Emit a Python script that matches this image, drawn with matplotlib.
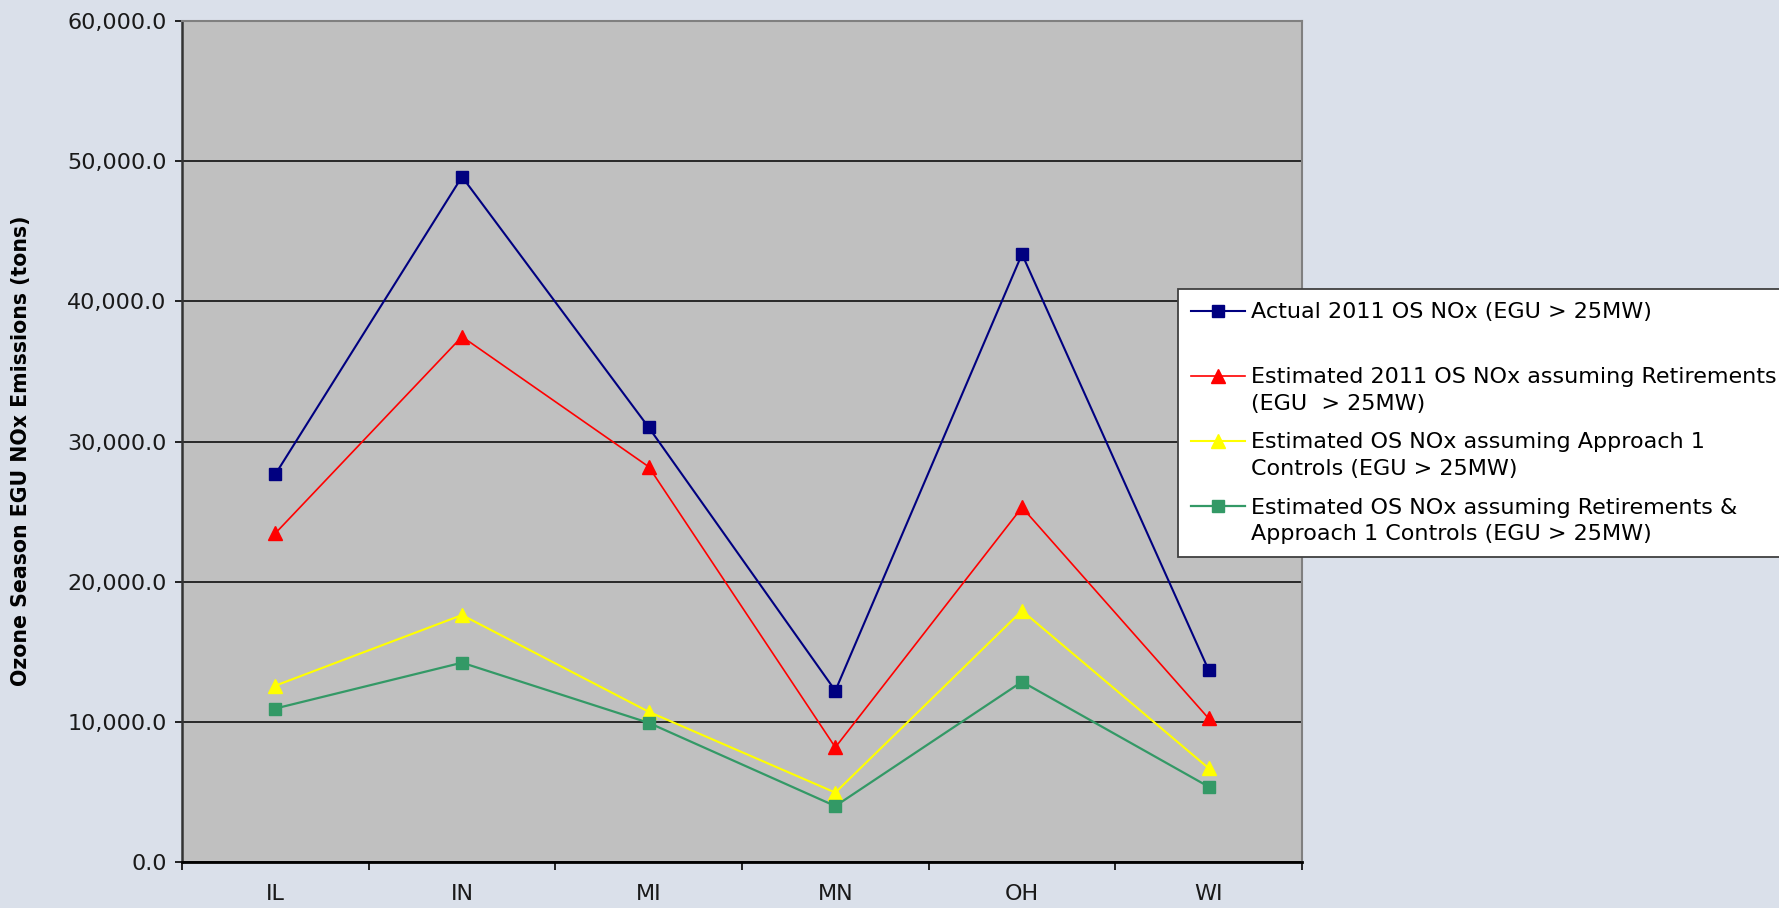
import numpy as np
import matplotlib
matplotlib.use("Agg")
import matplotlib.pyplot as plt
from matplotlib.ticker import FuncFormatter, FixedLocator
from matplotlib.legend_handler import HandlerLine2D

states = ["IL", "IN", "MI", "MN", "OH", "WI"]
actual_2011 = [27660, 48890, 31010, 12220, 43370, 13690]
est_retirements = [23450, 37480, 28200, 8180, 25300, 10240]
est_approach1 = [12580, 17620, 10720, 4950, 17930, 6690]
est_retire_approach1 = [10950, 14220, 9930, 3990, 12860, 5370]

labels = [
    "Actual 2011 OS NOx (EGU > 25MW)\n ",
    "Estimated 2011 OS NOx assuming Retirements\n(EGU  > 25MW)",
    "Estimated OS NOx assuming Approach 1\nControls (EGU > 25MW)",
    "Estimated OS NOx assuming Retirements &\nApproach 1 Controls (EGU > 25MW)",
]
y_label = "Ozone Season EGU NOx Emissions (tons)"

plt.rcParams['font.family'] = ['DejaVu Sans']

fig = plt.figure(figsize=(17.79, 9.08), dpi=100)
fig.patch.set_facecolor("#DAE0EA")
ax = fig.add_axes([182/1779, 46/908, (1302-182)/1779, (862-21)/908])
ax.set_facecolor("#C0C0C0")

x = np.arange(len(states))
styles = [
    (actual_2011, "#000080", "s", 9, 1.5),
    (est_retirements, "#FF0000", "^", 9.5, 1.2),
    (est_approach1, "#FFFF00", "^", 9.5, 1.5),
    (est_retire_approach1, "#339966", "s", 9, 1.6),
]
handles = []
for (vals, col, mk, ms, lw), lab in zip(styles, labels):
    h, = ax.plot(x, vals, color=col, marker=mk, markersize=ms, linewidth=lw,
                 markeredgecolor=col, markerfacecolor=col, label=lab, zorder=3)
    handles.append(h)

ax.set_xlim(-0.5, len(states) - 0.5)
ax.set_ylim(0, 60000)
ax.yaxis.set_major_locator(FixedLocator(np.arange(0, 60001, 10000)))
ax.yaxis.set_major_formatter(FuncFormatter(lambda v, p: f"{v:,.1f}"))
ax.grid(axis="y", color="black", linewidth=1.1, zorder=1)
ax.set_axisbelow(True)

ax.set_xticks(np.arange(-0.5, len(states), 1.0))
ax.set_xticklabels([])
ax.set_xticks(x, minor=True)
ax.set_xticklabels(states, minor=True)
ax.tick_params(axis="x", which="major", direction="out", length=6, width=1.2, color="black")
ax.tick_params(axis="x", which="minor", length=0, pad=16, labelsize=16, labelcolor="#1a1a1a")
ax.tick_params(axis="y", direction="out", length=5, width=1.2, pad=6, labelsize=16, labelcolor="#1a1a1a")

for s in ["top", "right"]:
    ax.spines[s].set_color("#808080")
    ax.spines[s].set_linewidth(1.5)
ax.spines["left"].set_color("#333333")
ax.spines["left"].set_linewidth(1.8)
ax.spines["bottom"].set_color("black")
ax.spines["bottom"].set_linewidth(2)

fig.text(21/1779, 1 - 451/908, y_label, rotation=90, ha="center", va="center",
         fontsize=14.8, fontweight="bold")


class UpperHandler(HandlerLine2D):
    def __init__(self, shift, **kw):
        super().__init__(**kw)
        self.shift = shift

    def create_artists(self, legend, orig_handle, xdescent, ydescent, width, height, fontsize, trans):
        arts = super().create_artists(legend, orig_handle, xdescent, ydescent, width, height, fontsize, trans)
        for a in arts:
            a.set_ydata(np.asarray(a.get_ydata(), dtype=float) + self.shift)
        return arts


fs = 16
hm = {h: UpperHandler(shift=10.6, numpoints=1) for h in handles}
leg = fig.legend(handles=handles, labels=labels, loc="upper left",
                 bbox_to_anchor=(1178/1779, 1 - 289/908), bbox_transform=fig.transFigure,
                 fontsize=fs, frameon=True, fancybox=False, framealpha=1,
                 edgecolor="#404040", facecolor="white", borderaxespad=0,
                 handlelength=2.45, handletextpad=0.27, labelspacing=0.85,
                 borderpad=0.58, handler_map=hm)
leg.get_frame().set_linewidth(1.3)
for t in leg.get_texts():
    t.set_linespacing(1.40)

fig.savefig("out.png", dpi=100, facecolor=fig.get_facecolor())
